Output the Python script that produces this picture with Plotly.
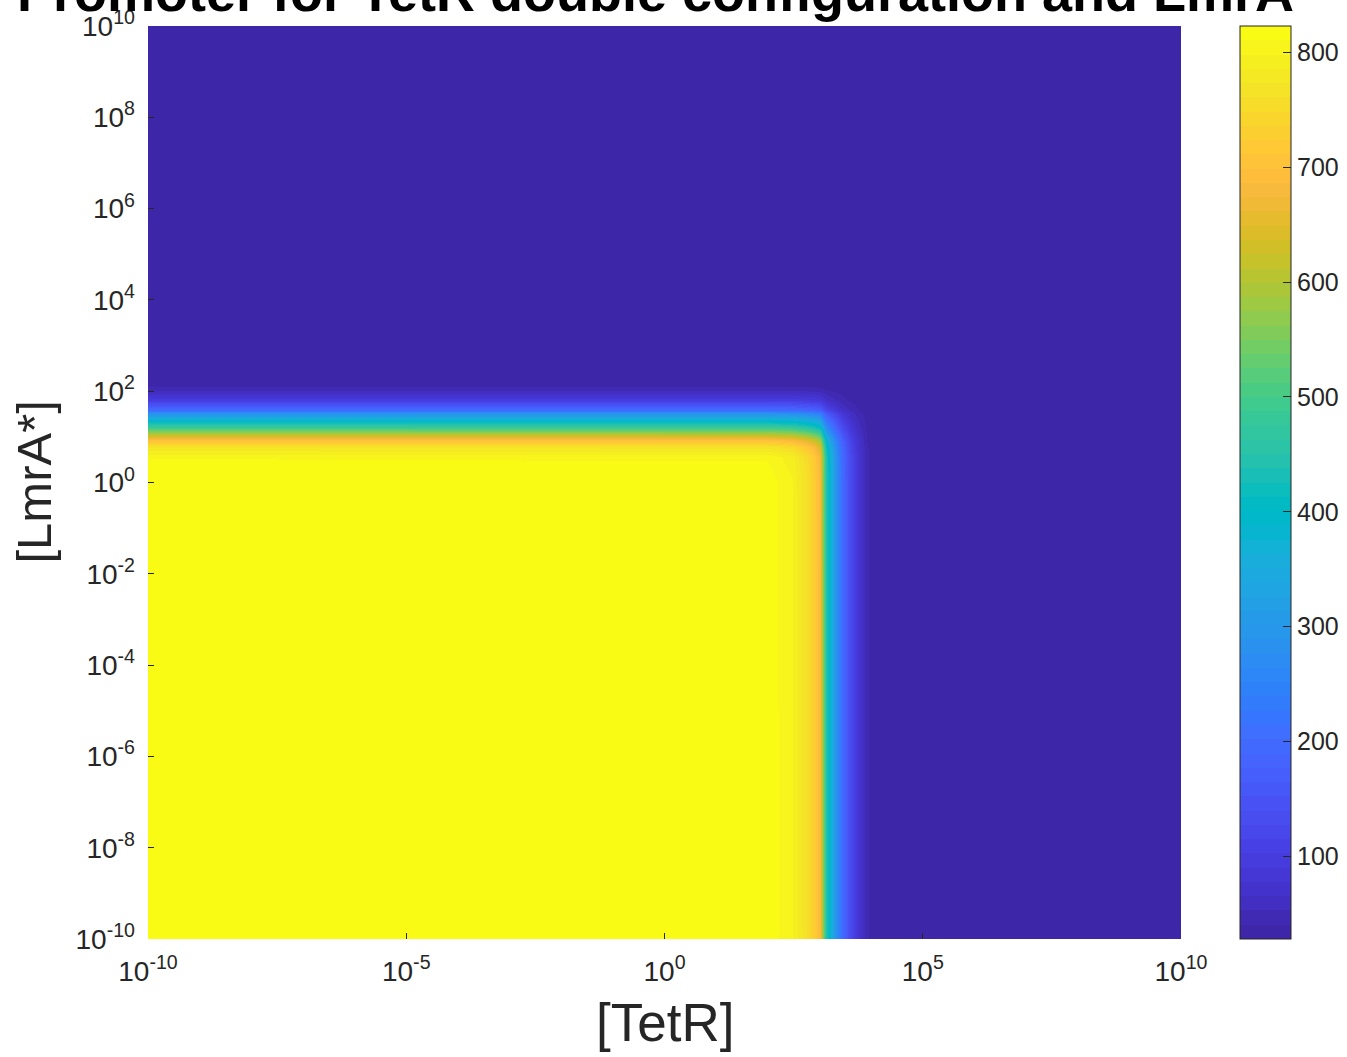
import numpy as np
import plotly.graph_objects as go

# ---- data ----
tetr_log = [-10.0, 2.0, 2.47, 2.76, 2.91, 3.01, 3.07, 3.13, 3.20, 3.30, 3.44, 3.59, 3.75, 3.92, 4.17, 10.0]
tetr_profile = [820, 819, 800, 760, 720, 680, 560, 450, 380, 300, 200, 130, 80, 42, 30, 30]

lmra_log = [-10.0, 0.05, 0.55, 0.77, 0.93, 1.06, 1.19, 1.35, 1.52, 1.59, 1.81, 2.03, 2.18, 2.5, 10.0]
lmra_profile = [820, 819, 810, 770, 700, 600, 500, 400, 280, 200, 100, 50, 32, 30, 30]

base_level = 30
top_level = 820
cmin, cmax = 28, 823

x_tick_exp = [-10, -5, 0, 5, 10]
y_tick_exp = [-10, -8, -6, -4, -2, 0, 2, 4, 6, 8, 10]
cbar_ticks = [100, 200, 300, 400, 500, 600, 700, 800]

title_text = "Promoter for TetR double configuration and LmrA"
x_title = "[TetR]"
y_title = "[LmrA*]"

# ---- build table from profiles ----
tp = np.array(tetr_profile, dtype=float)
lp = np.array(lmra_profile, dtype=float)
z = base_level + np.outer(lp - base_level, tp - base_level) / (top_level - base_level)

xvals = [10.0 ** v for v in tetr_log]
yvals = [10.0 ** v for v in lmra_log]

parula = [
    [0.2422, 0.1504, 0.6603], [0.2504, 0.1650, 0.7076], [0.2578, 0.1818, 0.7511], [0.2647, 0.1978, 0.7952],
    [0.2706, 0.2147, 0.8364], [0.2751, 0.2342, 0.8710], [0.2783, 0.2559, 0.8991], [0.2803, 0.2782, 0.9221],
    [0.2813, 0.3006, 0.9414], [0.2810, 0.3228, 0.9579], [0.2795, 0.3447, 0.9717], [0.2760, 0.3667, 0.9829],
    [0.2699, 0.3892, 0.9906], [0.2602, 0.4123, 0.9952], [0.2440, 0.4358, 0.9988], [0.2206, 0.4603, 0.9973],
    [0.1963, 0.4847, 0.9892], [0.1834, 0.5074, 0.9798], [0.1786, 0.5289, 0.9682], [0.1764, 0.5499, 0.9520],
    [0.1687, 0.5703, 0.9359], [0.1540, 0.5902, 0.9218], [0.1460, 0.6091, 0.9079], [0.1380, 0.6276, 0.8973],
    [0.1248, 0.6459, 0.8883], [0.1113, 0.6635, 0.8763], [0.0952, 0.6798, 0.8598], [0.0689, 0.6948, 0.8394],
    [0.0297, 0.7082, 0.8163], [0.0036, 0.7203, 0.7917], [0.0067, 0.7312, 0.7660], [0.0433, 0.7411, 0.7394],
    [0.0964, 0.7500, 0.7120], [0.1408, 0.7584, 0.6842], [0.1717, 0.7670, 0.6554], [0.1938, 0.7758, 0.6251],
    [0.2161, 0.7843, 0.5923], [0.2470, 0.7918, 0.5567], [0.2906, 0.7973, 0.5188], [0.3406, 0.8008, 0.4789],
    [0.3909, 0.8029, 0.4354], [0.4456, 0.8024, 0.3909], [0.5044, 0.7993, 0.3480], [0.5616, 0.7942, 0.3045],
    [0.6174, 0.7876, 0.2612], [0.6720, 0.7793, 0.2227], [0.7242, 0.7698, 0.1910], [0.7738, 0.7598, 0.1646],
    [0.8203, 0.7498, 0.1535], [0.8634, 0.7406, 0.1596], [0.9035, 0.7330, 0.1774], [0.9393, 0.7288, 0.2100],
    [0.9728, 0.7298, 0.2394], [0.9956, 0.7434, 0.2371], [0.9970, 0.7659, 0.2199], [0.9952, 0.7893, 0.2028],
    [0.9892, 0.8136, 0.1885], [0.9786, 0.8386, 0.1766], [0.9676, 0.8639, 0.1643], [0.9610, 0.8890, 0.1537],
    [0.9597, 0.9135, 0.1423], [0.9628, 0.9373, 0.1265], [0.9691, 0.9606, 0.1064], [0.9769, 0.9839, 0.0805],
]
n = len(parula)
colorscale = []
for i, c in enumerate(parula):
    rgb = "rgb(%d,%d,%d)" % tuple(round(v * 255) for v in c)
    colorscale.append([i / n, rgb])
    colorscale.append([(i + 1) / n, rgb])

tick_font = dict(family="Liberation Sans Narrow, Liberation Sans, Arial", size=28, color="#262626")

fig = go.Figure(go.Heatmap(
    x=xvals, y=yvals, z=z,
    zmin=cmin, zmax=cmax,
    zsmooth="best",
    colorscale=colorscale,
    colorbar=dict(
        x=1.057, xanchor="left", xpad=0,
        y=0, yanchor="bottom", ypad=0, len=1, lenmode="fraction",
        thickness=51, thicknessmode="pixels",
        outlinecolor="#262626", outlinewidth=1,
        tickvals=cbar_ticks, ticks="inside", ticklen=8, tickcolor="#262626",
        tickfont=dict(family="Liberation Sans, Arial", size=25, color="#262626"),
    ),
    hoverinfo="skip",
))

fig.update_layout(
    width=1347, height=1057,
    margin=dict(l=148, r=166, t=26, b=118, autoexpand=False),
    paper_bgcolor="white", plot_bgcolor="white",
    xaxis=dict(type="log", range=[-10, 10], showgrid=False, zeroline=False,
               tickvals=[10.0 ** e for e in x_tick_exp],
               ticktext=["10<sup>%d</sup>" % e for e in x_tick_exp],
               ticks="inside", ticklen=6, tickcolor="#262626", tickfont=tick_font,
               ticklabelstandoff=13, showline=False),
    yaxis=dict(type="log", range=[-10, 10], showgrid=False, zeroline=False,
               tickvals=[10.0 ** e for e in y_tick_exp],
               ticktext=["10<sup>%d</sup>" % e for e in y_tick_exp],
               ticks="inside", ticklen=6, tickcolor="#262626", tickfont=tick_font,
               ticklabelstandoff=12, showline=False),
    annotations=[
        dict(text="<b>" + title_text + "</b>", xref="paper", yref="paper", x=0.491, y=1,
             xanchor="center", yanchor="middle", yshift=34, showarrow=False,
             font=dict(family="Liberation Sans, Arial", size=54, color="black")),
        dict(text=x_title, xref="paper", yref="paper", x=0.5, y=0, xanchor="center", yanchor="top",
             yshift=-52, showarrow=False,
             font=dict(family="Liberation Sans, Arial", size=53, color="#262626")),
        dict(text=y_title, xref="paper", yref="paper", x=0, y=0.5, xanchor="right", yanchor="middle",
             xshift=-86, textangle=-90, showarrow=False,
             font=dict(family="Liberation Sans, Arial", size=49, color="#262626")),
    ],
)

fig.write_html("out.html", config={"displayModeBar": False},
               post_script="document.body.style.margin='0';document.body.style.padding='0';")
